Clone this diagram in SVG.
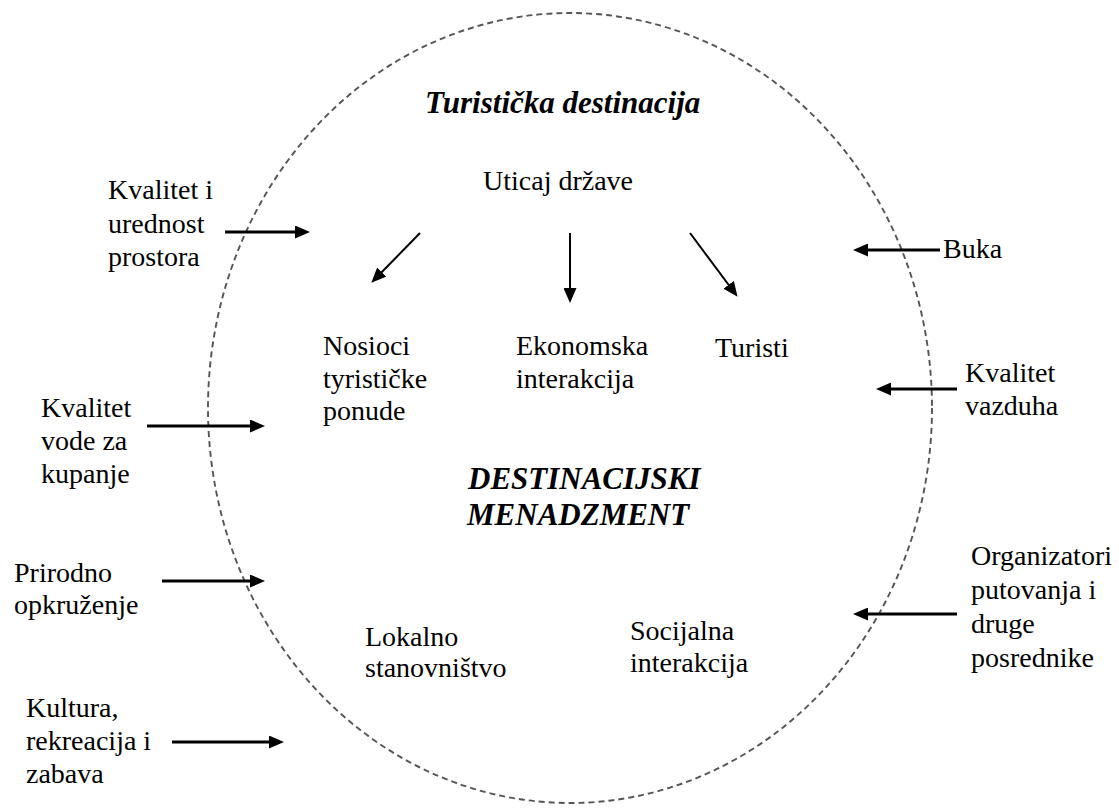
<svg xmlns="http://www.w3.org/2000/svg" width="1119" height="808" viewBox="0 0 1119 808">
<style>
text{font-family:"Liberation Serif","Times New Roman",serif;font-size:28px;fill:#000}
.bi{font-weight:bold;font-style:italic;font-size:31px}
.ln{stroke:#000;fill:none}
.h{stroke-width:2.8}
.d{stroke-width:2}
</style>
<defs>
<marker id="ah" viewBox="0 0 15 13" refX="4" refY="6.5" markerWidth="15" markerHeight="13" markerUnits="userSpaceOnUse" orient="auto">
<path d="M0,0 L15,6.5 L0,13 z" fill="#000"/>
</marker>
</defs>
<rect width="1119" height="808" fill="#fff"/>
<g id="boundary">
<ellipse cx="570" cy="408" rx="362" ry="395" fill="none" stroke="#555" stroke-width="1.9" stroke-dasharray="6 4"/>
</g>
<g id="connectors">
<line class="ln h" x1="225" y1="232" x2="299" y2="232" marker-end="url(#ah)"/>
<line class="ln h" x1="147" y1="426" x2="254" y2="426" marker-end="url(#ah)"/>
<line class="ln h" x1="162" y1="581" x2="254" y2="581" marker-end="url(#ah)"/>
<line class="ln h" x1="172" y1="742" x2="273" y2="742" marker-end="url(#ah)"/>
<line class="ln h" x1="940" y1="250" x2="864" y2="250" marker-end="url(#ah)"/>
<line class="ln h" x1="957" y1="389" x2="887" y2="389" marker-end="url(#ah)"/>
<line class="ln h" x1="957" y1="614" x2="864" y2="614" marker-end="url(#ah)"/>
<line class="ln d" x1="420" y1="233" x2="379" y2="275" marker-end="url(#ah)"/>
<line class="ln d" x1="570" y1="233" x2="570" y2="292" marker-end="url(#ah)"/>
<line class="ln d" x1="690" y1="233" x2="731" y2="288" marker-end="url(#ah)"/>
</g>
<g id="title"><text class="bi" x="425" y="113">Turistička destinacija</text></g>
<g id="uticaj"><text x="483" y="190">Uticaj države</text></g>
<g id="nosioci"><text x="323" y="355">Nosioci</text><text x="323" y="388">tyristi&#269;ke</text><text x="323" y="420">ponude</text></g>
<g id="ekonomska"><text x="516" y="355">Ekonomska</text><text x="516" y="388">interakcija</text></g>
<g id="turisti"><text x="715" y="357">Turisti</text></g>
<g id="menadzment"><text class="bi" x="468" y="489">DESTINACIJSKI</text><text class="bi" x="467" y="525">MENADZMENT</text></g>
<g id="lokalno"><text x="365" y="646">Lokalno</text><text x="365" y="677">stanovništvo</text></g>
<g id="socijalna"><text x="630" y="640">Socijalna</text><text x="630" y="672">interakcija</text></g>
<g id="kvalitet-prostora"><text x="108" y="199">Kvalitet i</text><text x="108" y="233">urednost</text><text x="108" y="266">prostora</text></g>
<g id="kvalitet-vode"><text x="41" y="417">Kvalitet</text><text x="41" y="450">vode za</text><text x="41" y="483">kupanje</text></g>
<g id="prirodno"><text x="14" y="582">Prirodno</text><text x="14" y="614">opkruženje</text></g>
<g id="kultura"><text x="26" y="717">Kultura,</text><text x="26" y="750">rekreacija i</text><text x="26" y="783">zabava</text></g>
<g id="buka"><text x="943" y="258">Buka</text></g>
<g id="kvalitet-vazduha"><text x="965" y="382">Kvalitet</text><text x="965" y="415">vazduha</text></g>
<g id="organizatori"><text x="971" y="565">Organizatori</text><text x="971" y="599">putovanja i</text><text x="971" y="633">druge</text><text x="971" y="667">posrednike</text></g>
</svg>
